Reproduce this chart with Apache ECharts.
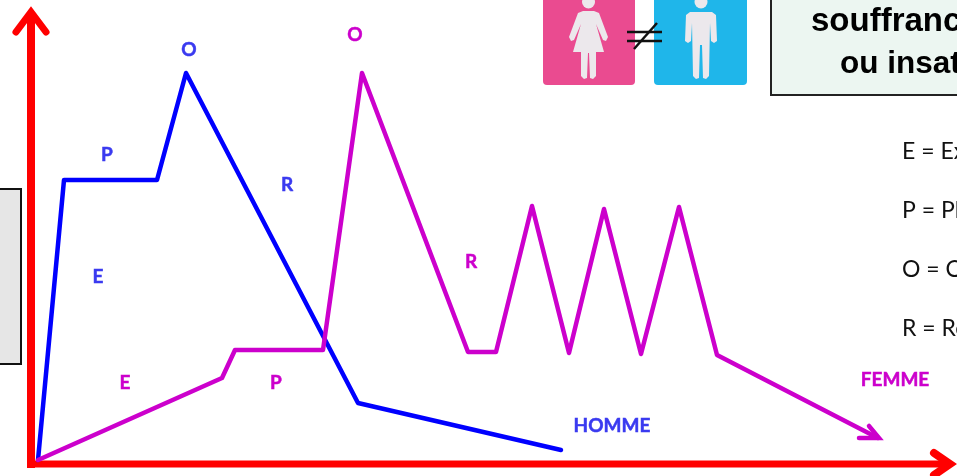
<!DOCTYPE html>
<html>
<head>
<meta charset="utf-8">
<style>
  html, body { margin: 0; padding: 0; background: #fff; overflow: hidden; }
  #chart { width: 957px; height: 476px; }
</style>
</head>
<body>
<div id="chart"></div>
<script src="https://cdn.jsdelivr.net/npm/echarts@6/dist/echarts.min.js"></script>
<script>
// courbes (x = temps, y = intensite)
var hommeX = [7, 33, 126, 155, 327, 530]
var hommeY = [4, 284, 284, 391, 61, 14]
var femmeX = [7, 191, 204, 292, 331, 437, 465, 501, 538, 573, 610, 648, 686, 847]
var femmeY = [4, 86, 114, 114, 391, 112, 112, 258, 111, 255, 110, 257, 109, 26]

// axes rouges et pointes de fleche
var axisXX = [0, 915]
var axisXY = [0, 0]
var axisYX = [0, 0]
var axisYY = [0, 445]
var femmeHeadX = [828, 848, 838]
var femmeHeadY = [26, 26, 38]
var yHeadX = [-15, 0, 15]
var yHeadY = [432, 452, 432]
var xHeadX = [903, 919, 903]
var xHeadY = [11, 0, -11]

// lettres le long des courbes
var hommeLabels = ['O', 'P', 'R', 'E', 'HOMME']
var hommeLabelX = [158, 76, 256, 67, 581]
var hommeLabelY = [414, 309, 279, 187, 38]
var femmeLabels = ['O', 'R', 'E', 'P', 'FEMME']
var femmeLabelX = [324, 440, 94, 245, 864]
var femmeLabelY = [429, 202, 81, 81, 84]

// legende a droite
var legendLines = ['E = Excitation', 'P = Plateau', 'O = Orgasme', 'R = Résolution']
var titleLines = ['souffrance', 'ou insatisfaction']

var BLUE = '#0000ff'
var MAGENTA = '#cc00cc'
var RED = '#ff0000'
var FONT = 'Lato, "Noto Sans", sans-serif'

function zip (xs, ys) {
  return xs.map(function (x, i) { return [x, ys[i]] })
}

function curve (name, xs, ys, color, width, join, cap) {
  return {
    name: name,
    type: 'line',
    data: zip(xs, ys),
    symbol: 'none',
    silent: true,
    lineStyle: { color: color, width: width, join: join || 'round', cap: cap || 'round' }
  }
}

function letters (texts, xs, ys, color, size) {
  return {
    type: 'scatter',
    symbolSize: 0,
    silent: true,
    itemStyle: { opacity: 1 },
    data: texts.map(function (t, i) { return { value: [xs[i], ys[i]], name: t } }),
    label: {
      show: true,
      position: 'inside',
      formatter: '{b}',
      color: color,
      fontFamily: FONT,
      fontWeight: 'bold',
      fontSize: size,
      textBorderColor: color,
      textBorderWidth: 0.5
    }
  }
}

var womanPts = [[583, 11], [594, 11], [599, 13], [608, 37], [606, 41], [603, 40], [596, 24], [604, 52], [596, 52], [596, 76], [593, 79], [590, 78], [589, 53], [588, 53], [587, 78], [584, 79], [581, 76], [581, 52], [573, 52], [581, 24], [574, 40], [571, 41], [569, 37], [578, 13]]
var manPts = [[690, 12], [712, 12], [716, 15], [717, 41], [714, 43], [711, 41], [710, 23], [709, 76], [706, 79], [703, 78], [702, 45], [700, 45], [699, 78], [696, 79], [693, 76], [692, 23], [691, 41], [688, 43], [685, 41], [686, 15]]

var graphics = [
  // encadre gris a gauche
  { type: 'rect', shape: { x: -5, y: 189, width: 26, height: 175 }, style: { fill: '#e6e6e6', stroke: '#111', lineWidth: 2 } },
  // encadre titre
  { type: 'rect', shape: { x: 771, y: -5, width: 200, height: 100 }, style: { fill: '#ecf6f1', stroke: '#222', lineWidth: 2 } },
  { type: 'text', x: 811, y: 22, style: { text: titleLines[0], fill: '#000', font: 'bold 33px "Liberation Sans", Arial, sans-serif', verticalAlign: 'middle' } },
  { type: 'text', x: 840, y: 64, style: { text: titleLines[1], fill: '#000', font: 'bold 31.5px "Liberation Sans", Arial, sans-serif', verticalAlign: 'middle' } },
  // pictogrammes femme / homme
  { type: 'rect', shape: { x: 543, y: -6, width: 92, height: 91, r: 4 }, style: { fill: '#ea4b90' } },
  { type: 'rect', shape: { x: 654, y: -6, width: 93, height: 91, r: 4 }, style: { fill: '#1fb6ea' } },
  { type: 'circle', shape: { cx: 588.5, cy: 2, r: 6.5 }, style: { fill: '#ece8ec' } },
  { type: 'polygon', shape: { points: womanPts }, style: { fill: '#ece8ec' } },
  { type: 'circle', shape: { cx: 701, cy: 2, r: 6.5 }, style: { fill: '#ece8ec' } },
  { type: 'polygon', shape: { points: manPts }, style: { fill: '#ece8ec' } },
  { type: 'line', shape: { x1: 627, y1: 32, x2: 662, y2: 32 }, style: { stroke: '#111', lineWidth: 2.5 } },
  { type: 'line', shape: { x1: 627, y1: 41, x2: 662, y2: 41 }, style: { stroke: '#111', lineWidth: 2.5 } },
  { type: 'line', shape: { x1: 657, y1: 23, x2: 634, y2: 49 }, style: { stroke: '#111', lineWidth: 2.5 } }
]

// legende
var legendY = [152, 211, 270, 329]
legendLines.forEach(function (t, i) {
  graphics.push({
    type: 'text',
    x: 902,
    y: legendY[i],
    style: { text: t, fill: '#111', font: '23px ' + FONT, verticalAlign: 'middle' }
  })
})

var hiddenAxis = {
  type: 'value',
  show: false,
  splitLine: { show: false }
}

var chart = echarts.init(document.getElementById('chart'), null, { renderer: 'canvas' })
chart.setOption({
  animation: false,
  grid: { left: 0, right: 0, top: 0, bottom: 0 },
  xAxis: Object.assign({ min: -31, max: 926 }, hiddenAxis),
  yAxis: Object.assign({ min: -12, max: 464 }, hiddenAxis),
  graphic: graphics,
  series: [
    curve('axeX', axisXX, axisXY, RED, 7, 'miter', 'square'),
    curve('axeY', axisYX, axisYY, RED, 8, 'miter', 'square'),
    curve('yHead', yHeadX, yHeadY, RED, 7, 'miter'),
    curve('xHead', xHeadX, xHeadY, RED, 8, 'miter'),
    curve('HOMME', hommeX, hommeY, BLUE, 4.5),
    curve('FEMME', femmeX, femmeY, MAGENTA, 4.5),
    curve('femmeHead', femmeHeadX, femmeHeadY, MAGENTA, 4.5, 'miter'),
    letters(hommeLabels, hommeLabelX, hommeLabelY, '#3a3af0', 19),
    letters(femmeLabels, femmeLabelX, femmeLabelY, MAGENTA, 19)
  ]
})
</script>
</body>
</html>
